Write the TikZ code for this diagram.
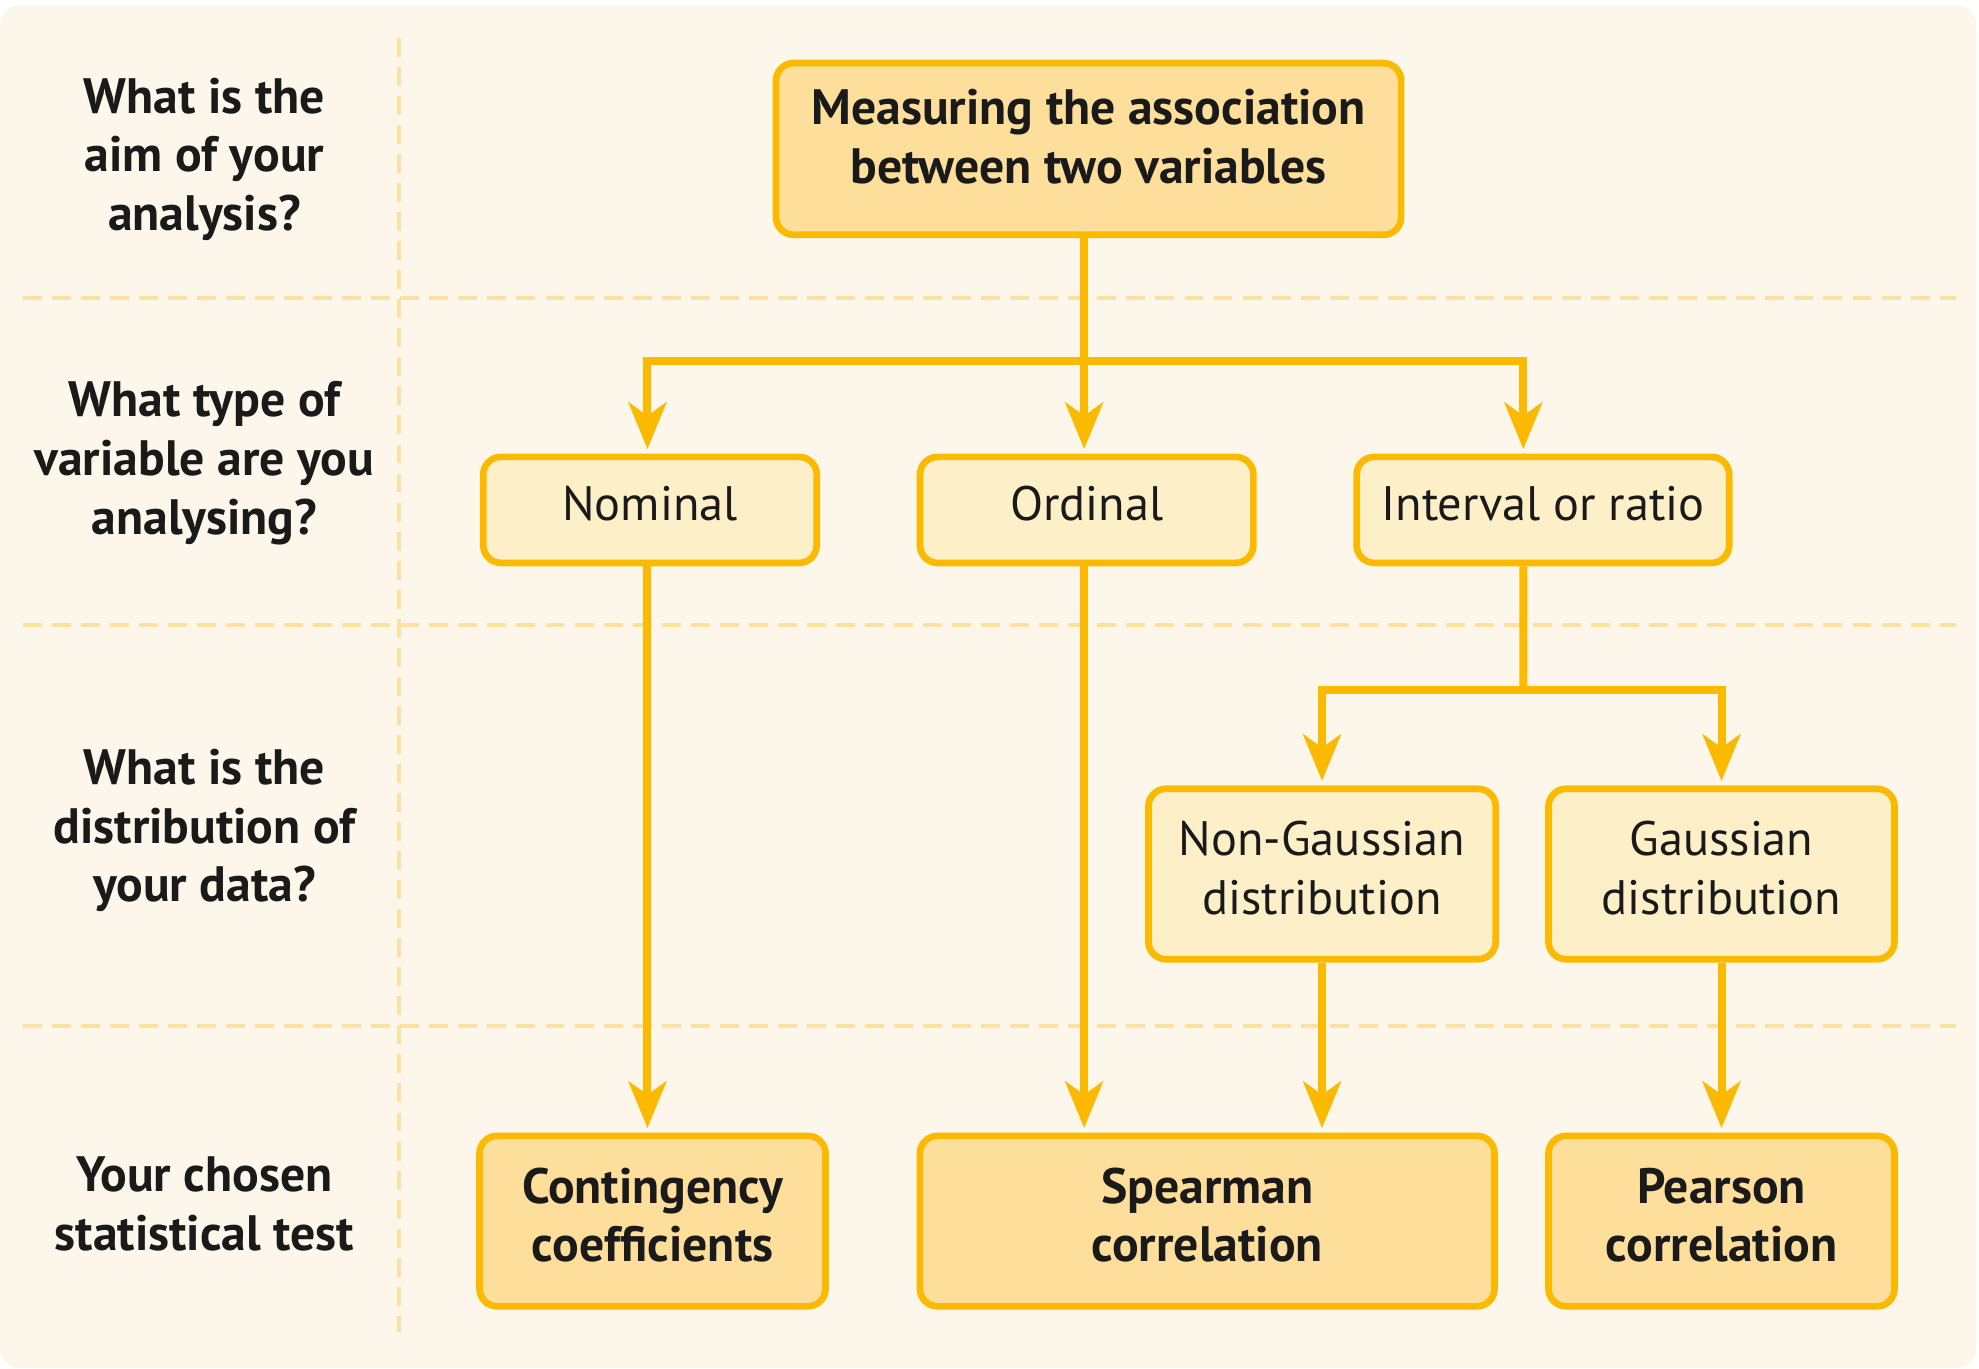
\documentclass[tikz,border=0pt]{standalone}
\usepackage{fontspec}
\setmainfont{PT Sans}
\usetikzlibrary{arrows.meta,positioning}

\definecolor{pagebg}{HTML}{FDF7EB}
\definecolor{boxline}{HTML}{FBBA00}
\definecolor{boxdark}{HTML}{FDDF9B}
\definecolor{boxlight}{HTML}{FDEFC8}
\definecolor{guideline}{HTML}{FDE1A0}
\definecolor{ink}{HTML}{1A1A1A}

\tikzset{
  testbox/.style={draw=boxline, line width=1.5pt, fill=boxdark, rounded corners=0.14cm,
    align=center, font=\fontsize{11.2}{13.2}\selectfont\bfseries, text=ink, inner sep=0pt,
    text depth=0.1cm},
  choicebox/.style={testbox, fill=boxlight, font=\fontsize{10.9}{13.2}\selectfont},
  question/.style={align=center, font=\fontsize{11.2}{13.2}\selectfont\bfseries, text=ink},
  guide/.style={draw=guideline, line width=0.9pt, dash pattern=on 0.15cm off 0.08cm},
  wire/.style={draw=boxline, line width=1.8pt},
  link/.style={wire, -{Stealth[length=10.5pt, width=8.5pt, inset=3pt]}, shorten >=1pt},
}

\begin{document}
\begin{tikzpicture}[x=0.01cm, y=-0.01cm]
  \useasboundingbox (0,0) rectangle (1568,1084);
  \fill[pagebg, rounded corners=0.16cm] (0,4) rectangle (1566,1084);

  % guide lines
  \foreach \gy in {236,495,813}
    \draw[guide] (18,\gy) -- (1550,\gy);
  \draw[guide] (316,30) -- (316,1055);

  % questions
  \node[question] (q1) at (162,126) {What is the\\aim of your\\analysis?};
  \node[question] (q2) at (162,367) {What type of\\variable are you\\analysing?};
  \node[question] (q3) at (162,658) {What is the\\distribution of\\your data?};
  \node[question] (q4) at (162,954) {Your chosen\\statistical test};

  % boxes
  \node[testbox, minimum width=4.95cm, minimum height=1.36cm, text depth=0.2cm] (measure) at (862.5,118)
    {Measuring the association\\between two variables};
  \node[choicebox, minimum width=2.64cm, minimum height=0.84cm] (nominal) at (515,404) {Nominal};
  \node[choicebox, minimum width=2.64cm, minimum height=0.84cm] (ordinal) at (861,404) {Ordinal};
  \node[choicebox, minimum width=2.95cm, minimum height=0.84cm] (interval) at (1222.5,404) {Interval or ratio};
  \node[choicebox, minimum width=2.75cm, minimum height=1.35cm] (nongauss) at (1047.5,692.5)
    {Non-Gaussian\\distribution};
  \node[choicebox, minimum width=2.74cm, minimum height=1.35cm] (gauss) at (1364,692.5)
    {Gaussian\\distribution};
  \node[testbox, minimum width=2.74cm, minimum height=1.35cm] (conting) at (517,967.5)
    {Contingency\\coefficients};
  \node[testbox, minimum width=4.55cm, minimum height=1.35cm] (spearman) at (956.5,967.5)
    {Spearman\\correlation};
  \node[testbox, minimum width=2.74cm, minimum height=1.35cm] (pearson) at (1364,967.5)
    {Pearson\\correlation};

  % connectors
  \coordinate (fork1) at (859,286);
  \coordinate (fork2) at (1207,547);
  \draw[wire] (fork1 |- measure.south) -- (fork1);
  \draw[link] (fork1) -| ([xshift=-0.02cm]nominal.north);
  \draw[link] (fork1) -- (fork1 |- ordinal.north);
  \draw[link] (fork1) -| ([xshift=-0.155cm]interval.north);
  \draw[link] ([xshift=-0.02cm]nominal.south) -- ([xshift=-0.02cm]nominal.south |- conting.north);
  \draw[link] ([xshift=-0.02cm]ordinal.south) -- ([xshift=-0.02cm]ordinal.south |- spearman.north);
  \draw[wire] ([xshift=-0.155cm]interval.south) -- (fork2);
  \draw[link] (fork2) -| (nongauss.north);
  \draw[link] (fork2) -| (gauss.north);
  \draw[link] (nongauss.south) -- (nongauss.south |- spearman.north);
  \draw[link] (gauss.south) -- (pearson.north);
\end{tikzpicture}
\end{document}
